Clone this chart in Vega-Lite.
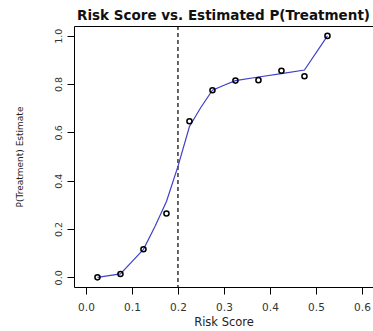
{
  "$schema": "https://vega.github.io/schema/vega-lite/v6.json",
  "width": 299,
  "height": 261,
  "autosize": {"type": "none"},
  "padding": {"left": 74, "top": 26, "right": 0, "bottom": 44},
  "background": "white",
  "title": {
    "text": "Risk Score vs. Estimated P(Treatment)",
    "font": "DejaVu Sans",
    "fontSize": 13.5,
    "fontWeight": "bold",
    "color": "#111",
    "anchor": "middle",
    "baseline": "alphabetic",
    "offset": -8
  },
  "config": {
    "view": {"stroke": "black", "strokeWidth": 1},
    "axis": {
      "domain": false,
      "grid": false,
      "ticks": true,
      "tickColor": "black",
      "tickSize": 7,
      "tickWidth": 1,
      "labelFont": "DejaVu Sans",
      "labelColor": "#333",
      "titleFont": "DejaVu Sans",
      "titleColor": "#222",
      "titleFontWeight": "normal"
    }
  },
  "datasets": {
    "obs": [
      {"risk": 0.025, "p": 0.0},
      {"risk": 0.075, "p": 0.014},
      {"risk": 0.125, "p": 0.116},
      {"risk": 0.175, "p": 0.264},
      {"risk": 0.225, "p": 0.646},
      {"risk": 0.275, "p": 0.774},
      {"risk": 0.325, "p": 0.814},
      {"risk": 0.375, "p": 0.816},
      {"risk": 0.425, "p": 0.855},
      {"risk": 0.475, "p": 0.832},
      {"risk": 0.525, "p": 0.999}
    ],
    "fit": [
      {"risk": 0.025, "p": 0.0},
      {"risk": 0.05, "p": 0.007},
      {"risk": 0.075, "p": 0.014},
      {"risk": 0.1, "p": 0.065},
      {"risk": 0.125, "p": 0.116},
      {"risk": 0.15, "p": 0.21},
      {"risk": 0.175, "p": 0.314},
      {"risk": 0.2, "p": 0.459},
      {"risk": 0.225, "p": 0.624},
      {"risk": 0.25, "p": 0.704},
      {"risk": 0.275, "p": 0.774},
      {"risk": 0.3, "p": 0.795},
      {"risk": 0.325, "p": 0.814},
      {"risk": 0.375, "p": 0.829},
      {"risk": 0.425, "p": 0.843},
      {"risk": 0.475, "p": 0.858},
      {"risk": 0.525, "p": 0.999}
    ],
    "cut": [{"risk": 0.2}]
  },
  "layer": [
    {
      "data": {"name": "cut"},
      "mark": {"type": "rule", "color": "black", "strokeWidth": 1.2, "strokeDash": [4, 3]},
      "encoding": {
        "x": {"field": "risk", "type": "quantitative", "scale": {"domain": [-0.026, 0.624], "nice": false, "zero": false}}
      }
    },
    {
      "data": {"name": "fit"},
      "mark": {"type": "line", "color": "#4040c8", "strokeWidth": 1.2},
      "encoding": {
        "x": {"field": "risk", "type": "quantitative"},
        "y": {"field": "p", "type": "quantitative"}
      }
    },
    {
      "data": {"name": "obs"},
      "mark": {"type": "point", "shape": "circle", "filled": false, "color": "black", "size": 26, "strokeWidth": 1.5, "opacity": 1},
      "encoding": {
        "x": {
          "field": "risk",
          "type": "quantitative",
          "scale": {"domain": [-0.026, 0.624], "nice": false, "zero": false},
          "axis": {
            "title": "Risk Score",
            "values": [0, 0.1, 0.2, 0.3, 0.4, 0.5, 0.6],
            "format": ".1f",
            "labelFontSize": 10.5,
            "labelPadding": 8,
            "titleFontSize": 11.5,
            "titlePadding": 4
          }
        },
        "y": {
          "field": "p",
          "type": "quantitative",
          "scale": {"domain": [-0.04, 1.04], "nice": false, "zero": false},
          "axis": {
            "title": "P(Treatment) Estimate",
            "values": [0, 0.2, 0.4, 0.6, 0.8, 1.0],
            "format": ".1f",
            "labelAngle": -90,
            "labelAlign": "center",
            "labelBaseline": "middle",
            "labelFontSize": 9.5,
            "labelPadding": 9,
            "titleFontSize": 9,
            "titlePadding": 29
          }
        }
      }
    }
  ]
}
